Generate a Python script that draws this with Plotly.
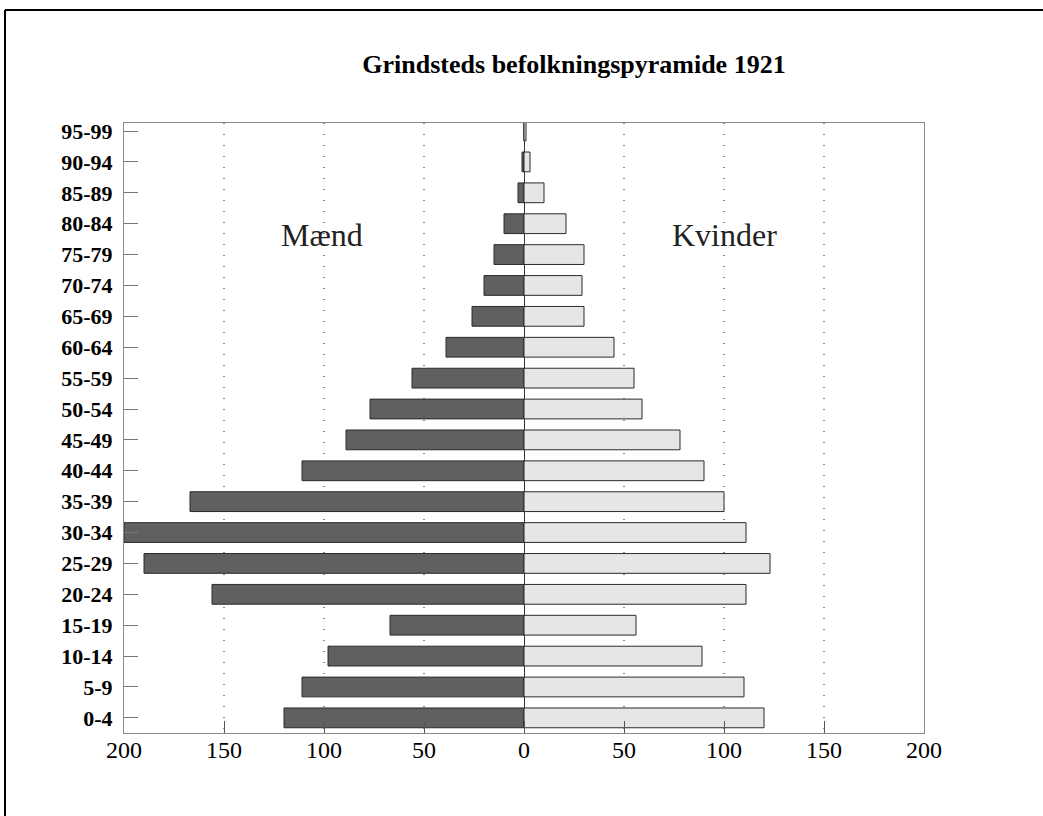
import plotly.graph_objects as go

age_groups = ["0-4", "5-9", "10-14", "15-19", "20-24", "25-29", "30-34", "35-39",
              "40-44", "45-49", "50-54", "55-59", "60-64", "65-69", "70-74",
              "75-79", "80-84", "85-89", "90-94", "95-99"]
maend = [120, 111, 98, 67, 156, 190, 200, 167, 111, 89, 77, 56, 39, 26, 20, 15, 10, 3, 1, 0]
kvinder = [120, 110, 89, 56, 111, 123, 111, 100, 90, 78, 59, 55, 45, 30, 29, 30, 21, 10, 3, 1]

x_ticks = [-200, -150, -100, -50, 0, 50, 100, 150, 200]
x_tick_text = [str(abs(v)) for v in x_ticks]

serif = "Liberation Serif"

fig = go.Figure()
fig.add_trace(go.Bar(
    y=age_groups, x=[-v for v in maend], orientation="h", name="Mænd",
    marker=dict(color="#606060", line=dict(color="#2a2a2a", width=1)),
    width=0.64,
))
fig.add_trace(go.Bar(
    y=age_groups, x=kvinder, orientation="h", name="Kvinder",
    marker=dict(color="#e6e6e6", line=dict(color="#2a2a2a", width=1)),
    width=0.64,
))

W, H = 1043, 816
L, R, T, B = 124, 119, 123, 83
pw, ph = W - L - R, H - T - B


def px_x(p):
    return (p - L) / pw


def px_y(p):
    return (H - B - p) / ph


fig.update_layout(
    width=W, height=H,
    margin=dict(l=L, r=R, t=T, b=B),
    barmode="overlay",
    showlegend=False,
    plot_bgcolor="white",
    paper_bgcolor="white",
    font=dict(family=serif, color="black"),
    title=dict(text="<b>Grindsteds befolkningspyramide 1921</b>",
               x=574 / W, xanchor="center", y=1 - 64 / H, yanchor="middle",
               font=dict(family=serif, size=26, color="black")),
    xaxis=dict(
        range=[-200, 200], tickvals=x_ticks, ticktext=x_tick_text,
        showgrid=True, gridcolor="#8a8a8a", griddash="1px,10px", gridwidth=1.5,
        zeroline=True, zerolinecolor="#333333", zerolinewidth=1,
        showline=True, linecolor="#8a8a8a", linewidth=1, mirror=True,
        ticks="inside", ticklen=12, tickcolor="#555555",
        tickfont=dict(family=serif, size=24, color="black"),
        ticklabelstandoff=-5,
        fixedrange=True,
    ),
    yaxis=dict(
        range=[-0.49, 19.26],
        tickvals=age_groups, ticktext=[f"<b>{a}</b>" for a in age_groups],
        showgrid=False, showline=True, linecolor="#8a8a8a", linewidth=1, mirror=True,
        ticks="inside", ticklen=14, tickcolor="#777777",
        tickfont=dict(family=serif, size=22, color="black"),
        ticklabelstandoff=6,
        fixedrange=True,
    ),
    annotations=[
        dict(x=-101, y=15.65, xref="x", yref="y", text="Mænd", showarrow=False,
             font=dict(family=serif, size=32, color="#222222")),
        dict(x=100, y=15.65, xref="x", yref="y", text="Kvinder", showarrow=False,
             font=dict(family=serif, size=32, color="#222222")),
    ],
    shapes=[
        dict(type="line", xref="paper", yref="paper",
             x0=px_x(5), x1=px_x(W), y0=px_y(10), y1=px_y(10),
             line=dict(color="black", width=2)),
        dict(type="line", xref="paper", yref="paper",
             x0=px_x(5), x1=px_x(5), y0=px_y(10), y1=px_y(H),
             line=dict(color="black", width=2)),
    ],
)

fig.write_html("out.html", config={"displayModeBar": False},
               post_script="document.body.style.margin='0';")
